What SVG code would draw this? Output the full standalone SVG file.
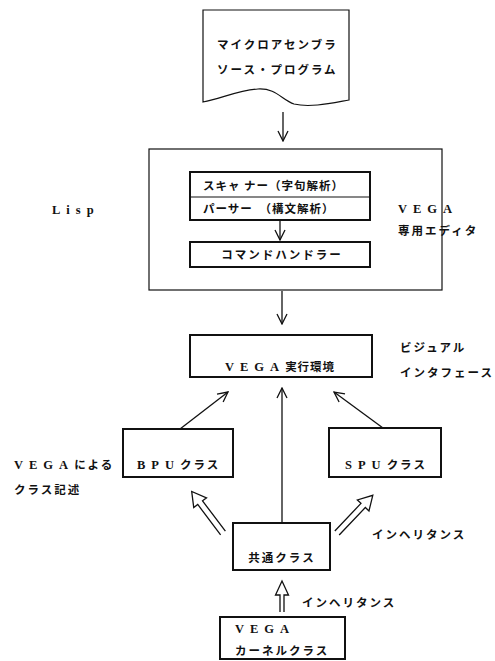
<svg xmlns="http://www.w3.org/2000/svg" width="495" height="661" viewBox="0 0 495 661">
<style>
.box{fill:#fff;stroke:#111;stroke-width:2}
.thin{fill:#fff;stroke:#111;stroke-width:1.2}
.ln{fill:none;stroke:#111;stroke-width:1.3}
.hol{fill:#fff;stroke:#111;stroke-width:1.3;stroke-linejoin:miter}
text{font-family:"Noto Sans CJK JP","Noto Sans",sans-serif;font-size:11.5px;font-weight:700;fill:#111;letter-spacing:2px}
.lat{letter-spacing:6px;font-family:"Liberation Serif","Noto Sans CJK JP",serif;font-size:12.5px}
.c{text-anchor:middle}
</style>
<defs>
<marker id="v" viewBox="0 0 12 12" refX="11" refY="6" markerWidth="12" markerHeight="12" markerUnits="userSpaceOnUse" orient="auto">
<path d="M1,1 L11,6 L1,11" fill="none" stroke="#111" stroke-width="1.3"/>
</marker>
<path id="harr" d="M0,-3 L38,-3 L38,-8 L52,0 L38,8 L38,3 L0,3"/>
</defs>
<rect width="495" height="661" fill="#fff"/>

<g id="editor">
<rect class="thin" x="149" y="149" width="293" height="141"/>
</g>

<g id="connectors">
<line class="ln" x1="283" y1="112" x2="283" y2="141" marker-end="url(#v)"/>
<line class="ln" x1="280" y1="221" x2="280" y2="240" marker-end="url(#v)"/>
<line class="ln" x1="282" y1="291" x2="282" y2="324" marker-end="url(#v)"/>
<line class="ln" x1="180" y1="429" x2="228" y2="392" marker-end="url(#v)"/>
<line class="ln" x1="282" y1="523" x2="282" y2="388" marker-end="url(#v)"/>
<line class="ln" x1="383" y1="428" x2="334" y2="392" marker-end="url(#v)"/>
<use href="#harr" class="hol" transform="translate(223,533) rotate(-127)"/>
<use href="#harr" class="hol" transform="translate(337,533) rotate(-46.5)"/>
<path class="hol" d="M280,612 L280,595 L275.5,595 L282,581 L288.5,595 L284,595 L284,612"/>
</g>

<g id="source">
<path class="thin" d="M203,10 H349 V100 C332,103 310,108 294,104 C282,100 276,88 258,89 C240,90 222,98 203,102 Z"/>
<text x="217" y="49">マイクロアセンブラ</text>
<text x="217" y="74">ソース・プログラム</text>
</g>

<g id="scanner">
<rect class="box" x="190" y="172" width="180" height="48"/>
<line x1="190" y1="197" x2="370" y2="197" stroke="#111" stroke-width="1.2"/>
<text x="203" y="190" style="letter-spacing:1px">スキャ ナー（字句解析）</text>
<text x="203" y="213" style="letter-spacing:1px">パーサー　（構文解析）</text>
</g>
<g id="handler">
<rect class="box" x="190" y="242" width="180" height="25"/>
<text class="c" x="282" y="259">コマンドハンドラー</text>
</g>
<text class="lat" x="52" y="214">Lisp</text>
<text class="lat" x="398" y="213">VEGA</text>
<text x="398" y="235">専用エディタ</text>

<g id="runtime">
<rect class="box" x="190" y="335" width="182" height="42"/>
<text x="225" y="371"><tspan class="lat">VEGA</tspan><tspan style="letter-spacing:1px">実行環境</tspan></text>
</g>
<text x="400" y="352">ビジュアル</text>
<text x="400" y="377">インタフェース</text>

<g id="bpu">
<rect class="box" x="123" y="429" width="110" height="48"/>
<text x="137" y="469"><tspan class="lat">BPU</tspan><tspan>クラス</tspan></text>
</g>
<g id="spu">
<rect class="box" x="329" y="428" width="112" height="49"/>
<text x="345" y="469"><tspan class="lat">SPU</tspan><tspan>クラス</tspan></text>
</g>
<text x="14" y="469"><tspan class="lat">VEGA</tspan><tspan>による</tspan></text>
<text x="14" y="494">クラス記述</text>

<g id="common">
<rect class="box" x="233" y="523" width="97" height="47"/>
<text class="c" x="282" y="562">共通クラス</text>
</g>
<text x="372" y="539">インヘリタンス</text>
<text x="302" y="607">インヘリタンス</text>

<g id="kernel">
<rect class="box" x="220" y="617" width="125" height="42"/>
<text class="lat" x="235" y="633">VEGA</text>
<text x="235" y="655">カーネルクラス</text>
</g>
</svg>
